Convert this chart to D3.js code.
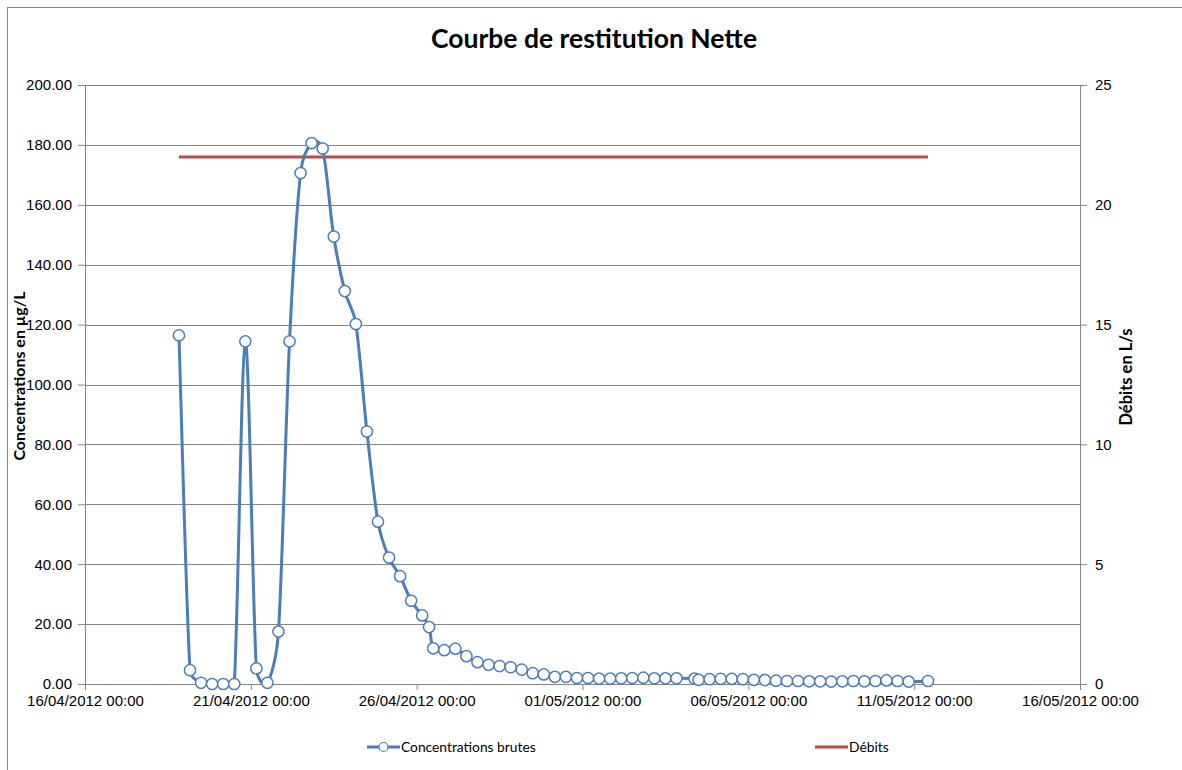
<!DOCTYPE html>
<html>
<head>
<meta charset="utf-8">
<script src="https://cdn.jsdelivr.net/npm/d3@7"></script>
<style>
  body { margin: 0; background: #fff; }
  svg { display: block; font-family: Lato, "Open Sans", sans-serif; }
</style>
</head>
<body>
<svg id="chart" width="1182" height="770"></svg>
<script>
// sample times (dd/mm/yyyy HH:MM) and raw concentrations in µg/L
const sampleDates = [
  "18/04/2012 20:00", "19/04/2012 04:00", "19/04/2012 12:00", "19/04/2012 20:00",
  "20/04/2012 04:00", "20/04/2012 12:00", "20/04/2012 20:00", "21/04/2012 04:00",
  "21/04/2012 12:00", "21/04/2012 20:00", "22/04/2012 04:00", "22/04/2012 12:00",
  "22/04/2012 20:00", "23/04/2012 04:00", "23/04/2012 12:00", "23/04/2012 20:00",
  "24/04/2012 04:00", "24/04/2012 12:00", "24/04/2012 20:00", "25/04/2012 04:00",
  "25/04/2012 12:00", "25/04/2012 20:00", "26/04/2012 04:00", "26/04/2012 09:00",
  "26/04/2012 12:00", "26/04/2012 20:00", "27/04/2012 04:00", "27/04/2012 12:00",
  "27/04/2012 20:00", "28/04/2012 04:00", "28/04/2012 12:00", "28/04/2012 20:00",
  "29/04/2012 04:00", "29/04/2012 12:00", "29/04/2012 20:00", "30/04/2012 04:00",
  "30/04/2012 12:00", "30/04/2012 20:00", "01/05/2012 04:00", "01/05/2012 12:00",
  "01/05/2012 20:00", "02/05/2012 04:00", "02/05/2012 12:00", "02/05/2012 20:00",
  "03/05/2012 04:00", "03/05/2012 12:00", "03/05/2012 20:00", "04/05/2012 09:00",
  "04/05/2012 12:00", "04/05/2012 20:00", "05/05/2012 04:00", "05/05/2012 12:00",
  "05/05/2012 20:00", "06/05/2012 04:00", "06/05/2012 12:00", "06/05/2012 20:00",
  "07/05/2012 04:00", "07/05/2012 12:00", "07/05/2012 20:00", "08/05/2012 04:00",
  "08/05/2012 12:00", "08/05/2012 20:00", "09/05/2012 04:00", "09/05/2012 12:00",
  "09/05/2012 20:00", "10/05/2012 04:00", "10/05/2012 12:00", "10/05/2012 20:00",
  "11/05/2012 10:00"
];
const concentrations = [
  116.4, 4.6, 0.4, 0, 0, 0, 114.4, 5.2,
  0.4, 17.5, 114.4, 170.6, 180.6, 178.8, 149.4, 131.2,
  120.2, 84.3, 54.2, 42.2, 36.0, 27.8, 22.9, 19.0,
  11.9, 11.3, 11.8, 9.3, 7.3, 6.4, 6.0, 5.6,
  4.8, 3.6, 3.2, 2.4, 2.4, 2.0, 2.0, 1.8,
  1.8, 1.9, 2.0, 2.1, 1.9, 1.9, 1.9, 1.8,
  1.4, 1.6, 1.7, 1.7, 1.6, 1.4, 1.3, 1.1,
  1.0, 1.0, 0.9, 0.9, 0.8, 0.9, 1.0, 0.9,
  1.0, 1.2, 1.0, 0.8, 1.0
];

// flow (L/s), constant over the test
const debitDates = ["18/04/2012 20:00", "11/05/2012 10:00"];
const debits = [22, 22];

const xTickLabels = [
  "16/04/2012 00:00", "21/04/2012 00:00", "26/04/2012 00:00", "01/05/2012 00:00",
  "06/05/2012 00:00", "11/05/2012 00:00", "16/05/2012 00:00"
];
const yLeftTicks = [0, 20, 40, 60, 80, 100, 120, 140, 160, 180, 200];
const yRightTicks = [0, 5, 10, 15, 20, 25];

const parse = d3.timeParse("%d/%m/%Y %H:%M");
const fmt = d3.timeFormat("%d/%m/%Y %H:%M");

const conc = sampleDates.map((d, i) => ({ date: parse(d), value: concentrations[i] }));
const flow = debitDates.map((d, i) => ({ date: parse(d), value: debits[i] }));
const xTicks = xTickLabels.map(parse);

// spreadsheet-style smoothing: catmull-rom tangents, clamped to half of each neighbouring segment
function SmoothCurve(context) { this._context = context; }
SmoothCurve.prototype = {
  areaStart() {}, areaEnd() {},
  lineStart() { this._pts = []; },
  point(x, y) { this._pts.push([+x, +y]); },
  lineEnd() {
    const p = this._pts, ctx = this._context, n = p.length;
    if (!n) return;
    ctx.moveTo(p[0][0], p[0][1]);
    const dist = (a, b) => Math.hypot(b[0] - a[0], b[1] - a[1]);
    const tangent = i => {
      const a = p[Math.max(i - 1, 0)], b = p[Math.min(i + 1, n - 1)];
      return [(b[0] - a[0]) / 6, (b[1] - a[1]) / 6];
    };
    const clamp = (t, maxLen) => {
      const len = Math.hypot(t[0], t[1]);
      if (len <= maxLen || len === 0) return t;
      return [t[0] * maxLen / len, t[1] * maxLen / len];
    };
    for (let i = 0; i < n - 1; i++) {
      const seg = dist(p[i], p[i + 1]);
      const t0 = clamp(tangent(i), seg * 0.5);
      const t1 = clamp(tangent(i + 1), seg * 0.5);
      ctx.bezierCurveTo(
        p[i][0] + t0[0], p[i][1] + t0[1],
        p[i + 1][0] - t1[0], p[i + 1][1] - t1[1],
        p[i + 1][0], p[i + 1][1]);
    }
  }
};
const curveSmooth = ctx => new SmoothCurve(ctx);

const margin = { top: 85, right: 102, bottom: 86, left: 85 },
  width = 1182 - margin.left - margin.right,
  height = 770 - margin.top - margin.bottom;

const svg = d3.select("#chart");

// chart frame
svg.append("rect")
  .attr("x", 7.5).attr("y", 7.5)
  .attr("width", 1190).attr("height", 790)
  .attr("fill", "none").attr("stroke", "#868686").attr("stroke-width", 1);

svg.append("text")
  .attr("x", 594).attr("y", 48)
  .attr("text-anchor", "middle")
  .style("font-size", "26.5px").style("font-weight", "bold")
  .text("Courbe de restitution Nette");

const chart = svg.append("g")
  .attr("transform", `translate(${margin.left}, ${margin.top})`);

const x = d3.scaleTime()
  .domain([xTicks[0], xTicks[xTicks.length - 1]])
  .range([0, width]);

const yLeft = d3.scaleLinear().domain([0, 200]).range([height, 0]);
const yRight = d3.scaleLinear().domain([0, 25]).range([height, 0]);

// horizontal gridlines
chart.append("g")
  .selectAll("line")
  .data(yLeftTicks.slice(1))
  .join("line")
  .attr("x1", 0).attr("x2", width)
  .attr("y1", d => Math.round(yLeft(d)) + 0.5)
  .attr("y2", d => Math.round(yLeft(d)) + 0.5)
  .attr("stroke", "#868686");

const styleAxis = g => {
  g.select(".domain").attr("stroke", "#868686");
  g.selectAll(".tick line").attr("stroke", "#868686");
  g.selectAll(".tick text").attr("fill", "#000").style("font-size", "15px");
};

chart.append("g")
  .call(d3.axisLeft(yLeft).tickValues(yLeftTicks).tickFormat(d3.format(".2f")).tickSize(7).tickPadding(6).tickSizeOuter(0))
  .call(styleAxis);

chart.append("g")
  .attr("transform", `translate(${width}, 0)`)
  .call(d3.axisRight(yRight).tickValues(yRightTicks).tickSize(7).tickPadding(8).tickSizeOuter(0))
  .call(styleAxis);

chart.append("g")
  .attr("transform", `translate(0, ${height})`)
  .call(d3.axisBottom(x).tickValues(xTicks).tickFormat(fmt).tickSize(6).tickPadding(5).tickSizeOuter(0))
  .call(styleAxis);

// axis titles
svg.append("text")
  .attr("transform", "translate(25, 376) rotate(-90)")
  .attr("text-anchor", "middle")
  .style("font-size", "16px").style("font-weight", "bold")
  .text("Concentrations en µg/L");

svg.append("text")
  .attr("transform", "translate(1132, 377) rotate(-90)")
  .attr("text-anchor", "middle")
  .style("font-size", "16.5px").style("font-weight", "bold")
  .text("Débits en L/s");

// flow line
const flowLine = d3.line()
  .x(d => x(d.date))
  .y(d => yRight(d.value));

chart.append("path")
  .datum(flow)
  .attr("d", flowLine)
  .attr("fill", "none")
  .attr("stroke", "#be4b48")
  .attr("stroke-width", 3);

// concentration curve
const concLine = d3.line()
  .x(d => x(d.date))
  .y(d => yLeft(d.value))
  .curve(curveSmooth);

chart.append("path")
  .datum(conc)
  .attr("d", concLine)
  .attr("fill", "none")
  .attr("stroke", "#4a7ebb")
  .attr("stroke-width", 3);

chart.append("g")
  .selectAll("circle")
  .data(conc)
  .join("circle")
  .attr("cx", d => x(d.date))
  .attr("cy", d => yLeft(d.value))
  .attr("r", 5.6)
  .attr("fill", "#fff")
  .attr("stroke", "#4a7ebb")
  .attr("stroke-width", 1.5);

// legend
const legendData = [
  { name: "Concentrations brutes", color: "#4a7ebb", marker: true, x: 367 },
  { name: "Débits", color: "#be4b48", marker: false, x: 815 }
];

const legendItems = svg.selectAll(".legend-item")
  .data(legendData)
  .join("g")
  .attr("class", "legend-item")
  .attr("transform", d => `translate(${d.x}, 747)`);

legendItems.append("line")
  .attr("x1", 0).attr("x2", 33)
  .attr("stroke", d => d.color)
  .attr("stroke-width", 3);

legendItems.filter(d => d.marker)
  .append("circle")
  .attr("cx", 16.5).attr("r", 4.5)
  .attr("fill", "#fff")
  .attr("stroke", d => d.color)
  .attr("stroke-width", 1.2);

legendItems.append("text")
  .attr("x", 34)
  .attr("y", 5)
  .style("font-size", "13.8px")
  .text(d => d.name);
</script>
</body>
</html>
